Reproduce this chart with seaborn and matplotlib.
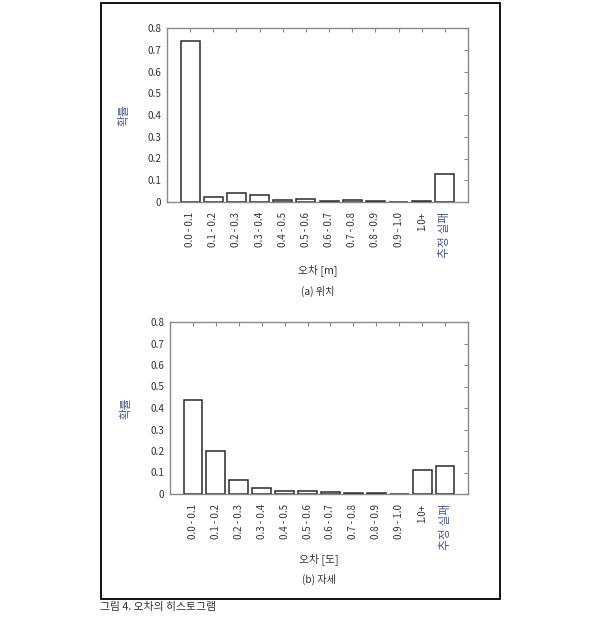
import matplotlib
matplotlib.use("Agg")
import matplotlib.pyplot as plt
import seaborn as sns
import pandas as pd
from matplotlib.patches import Rectangle

sns.set_style("white")
plt.rcParams['font.family'] = ['Noto Sans CJK KR', 'DejaVu Sans']

# data
categories = ["0.0 - 0.1", "0.1 - 0.2", "0.2 - 0.3", "0.3 - 0.4", "0.4 - 0.5",
              "0.5 - 0.6", "0.6 - 0.7", "0.7 - 0.8", "0.8 - 0.9", "0.9 - 1.0",
              "1.0+", "추정 실패"]
position_prob = [0.74, 0.025, 0.04, 0.03, 0.009, 0.012, 0.003, 0.009, 0.006, 0.0, 0.005, 0.13]
attitude_prob = [0.435, 0.2, 0.065, 0.028, 0.015, 0.015, 0.007, 0.005, 0.004, 0.0, 0.11, 0.13]
y_ticks = [0, 0.1, 0.2, 0.3, 0.4, 0.5, 0.6, 0.7, 0.8]
y_ticklabels = ["0", "0.1", "0.2", "0.3", "0.4", "0.5", "0.6", "0.7", "0.8"]

W, H = 600, 622
fig = plt.figure(figsize=(W / 100, H / 100), dpi=100)


def fx(px):
    return px / W


def fy(py):
    return 1 - py / H


def draw_panel(rect, values, xlabel, sublabel, xlabel_y, sub_y, ylabel_x):
    left, top, right, bottom = rect
    ax = fig.add_axes([fx(left), fy(bottom), fx(right) - fx(left), fy(top) - fy(bottom)])
    df = pd.DataFrame({"cat": categories, "prob": values})
    sns.barplot(data=df, x="cat", y="prob", color="white", edgecolor="#2a2a2a",
                linewidth=1.1, width=0.82, ax=ax)
    ax.set_xlim(-1, len(categories))
    ax.set_ylim(0, 0.8)
    ax.set_yticks(y_ticks)
    ax.set_yticklabels(y_ticklabels, fontsize=7.2, color="#333333")
    ax.set_xticks(range(len(categories)))
    ax.set_xticklabels(categories, rotation=90, fontsize=7, color="#333333")
    # the Korean label is set larger in the original
    ax.get_xticklabels()[-1].set_fontsize(8.5)
    ax.get_xticklabels()[-1].set_color("#4a5a8a")
    ax.tick_params(axis="x", direction="in", top=True, length=3, color="#888888", pad=7)
    ax.tick_params(axis="y", direction="in", right=True, length=3, color="#888888", pad=4)
    for s in ax.spines.values():
        s.set_color("#8a8a8a")
        s.set_linewidth(1.0)
    ax.set_xlabel("")
    ax.set_ylabel("확률", fontsize=8.5, color="#4a5a8a")
    ax.yaxis.set_label_coords((ylabel_x - left) / (right - left), 0.5)
    cx = fx((left + right) / 2)
    fig.text(cx, fy(xlabel_y), xlabel, ha="center", va="center", fontsize=7.8, color="#333333")
    fig.text(cx, fy(sub_y), sublabel, ha="center", va="center", fontsize=7.3, color="#333333")
    return ax


draw_panel((167, 28, 468, 202), position_prob, "오차 [m]", "(a) 위치", 270, 291, 131)
draw_panel((170, 322, 468, 494), attitude_prob, "오차 [도]", "(b) 자세", 559, 579, 133)

# outer frame and caption
fig.add_artist(Rectangle((fx(101), fy(599)), fx(500) - fx(101), fy(3) - fy(599),
                         transform=fig.transFigure, fill=False, edgecolor="black", linewidth=1.3))
fig.text(fx(100), fy(607), "그림 4. 오차의 히스토그램", ha="left", va="center",
         fontsize=7.8, color="#333333")

fig.savefig("out.png", dpi=100)
